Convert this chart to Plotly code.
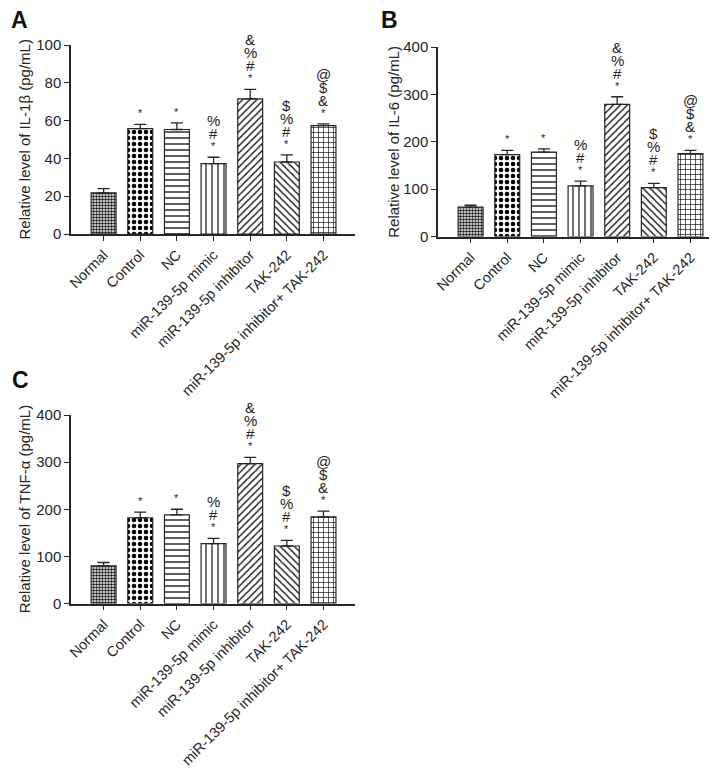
import plotly.graph_objects as go

groups = ["Normal", "Control", "NC", "miR-139-5p mimic", "miR-139-5p inhibitor",
          "TAK-242", "miR-139-5p inhibitor+ TAK-242"]

il1b = [21.8, 55.8, 55.3, 37.2, 71.5, 38.1, 57.3]
il1b_err = [2.2, 2.2, 3.5, 3.4, 5.0, 3.8, 1.0]
il6 = [62, 173, 178, 107, 279, 103, 175]
il6_err = [4, 9, 7, 10, 16, 9, 7]
tnfa = [80, 182, 188, 127, 297, 122, 184]
tnfa_err = [7, 12, 12, 11, 13, 12, 12]

# marks above each bar, bottom to top
marks = [[], ["*"], ["*"], ["*", "#", "%"], ["*", "#", "%", "&"],
         ["*", "#", "%", "$"], ["*", "&", "$", "@"]]

shapes = [".", ".", "-", "|", "/", "\\", "+"]
fg = ["#1a1a1a", "#000000", "#111111", "#111111", "#111111", "#111111", "#111111"]
psize = [3, 6, 6, 6, 5, 5, 5]
psolid = [0.55, 0.45, 0.22, 0.2, 0.28, 0.28, 0.25]

FONT = "Liberation Sans, Arial, sans-serif"
INK = "#262626"
W, H = 717, 770

# letter, values, errors, y title, y range, tick step, x extent (px), y extent (px),
# letter position (px), title x (px)
panels = [
    ("A", il1b, il1b_err, "Relative level of IL-1β (pg/mL)", [0, 100], 20,
     [63, 347], [37, 226], (12, 12), 16),
    ("B", il6, il6_err, "Relative level of IL-6 (pg/mL)", [0, 400], 100,
     [430, 714], [39, 228.5], (382, 12), 386),
    ("C", tnfa, tnfa_err, "Relative level of TNF-α (pg/mL)", [0, 400], 100,
     [63, 347], [407, 595.5], (13, 372), 16),
]

fig = go.Figure()
annotations = []
layout = {}

for i, (letter, vals, errs, title, yr, dt, xpx, ypx, lpos, tx) in enumerate(panels):
    n = "" if i == 0 else str(i + 1)
    xdom = [xpx[0] / W, xpx[1] / W]
    ydom = [1 - ypx[1] / H, 1 - ypx[0] / H]
    fig.add_trace(go.Bar(
        x=list(range(len(groups))), y=vals,
        xaxis="x" + n, yaxis="y" + n,
        width=0.68,
        marker=dict(color="white",
                    line=dict(color=INK, width=1.2),
                    pattern=dict(shape=shapes, fgcolor=fg, bgcolor="white",
                                 fgopacity=1, size=psize, solidity=psolid)),
        error_y=dict(type="data", symmetric=False, array=errs,
                     arrayminus=[0] * len(errs), color=INK, thickness=1.3, width=6),
        showlegend=False,
    ))
    layout["xaxis" + n] = dict(
        domain=xdom, anchor="y" + n, range=[-0.89, 6.86], automargin=False,
        tickvals=list(range(len(groups))), ticktext=groups, tickangle=-45,
        showline=True, linecolor=INK, linewidth=1.5, ticks="outside",
        ticklen=5, tickcolor=INK, tickwidth=1.3, showgrid=False, zeroline=False,
        tickfont=dict(family=FONT, size=14.5, color=INK),
    )
    layout["yaxis" + n] = dict(
        domain=ydom, anchor="x" + n, range=yr, dtick=dt, automargin=False,
        showline=True, linecolor=INK, linewidth=1.5, ticks="outside",
        ticklen=5, tickcolor=INK, tickwidth=1.3, showgrid=False, zeroline=False,
        tickfont=dict(family=FONT, size=15, color=INK),
    )
    # y title
    annotations.append(dict(
        text=title, xref="paper", yref="paper", textangle=-90,
        x=tx / W, y=sum(ydom) / 2, xanchor="center", yanchor="middle",
        showarrow=False, font=dict(family=FONT, size=15, color=INK),
    ))
    # panel letter
    annotations.append(dict(
        text="<b>%s</b>" % letter, xref="paper", yref="paper",
        x=lpos[0] / W, y=1 - lpos[1] / H, xanchor="center", yanchor="middle",
        showarrow=False, font=dict(family=FONT, size=23, color="#111111"),
    ))
    # significance marks
    for j, m in enumerate(marks):
        top = vals[j] + errs[j]
        for k, s in enumerate(m):
            if s == "*":
                sz, shift = 11, 3
            else:
                sz, shift = 15, 13 + (k - 1) * 13
            annotations.append(dict(
                text=s, x=j, y=top, xref="x" + n, yref="y" + n,
                xanchor="center", yanchor="bottom", yshift=shift,
                showarrow=False, font=dict(family=FONT, size=sz, color=INK),
            ))

fig.update_layout(
    width=W, height=H,
    margin=dict(l=0, r=0, t=0, b=0),
    paper_bgcolor="white", plot_bgcolor="white",
    annotations=annotations,
    **layout,
)

fig.write_html("out.html")
